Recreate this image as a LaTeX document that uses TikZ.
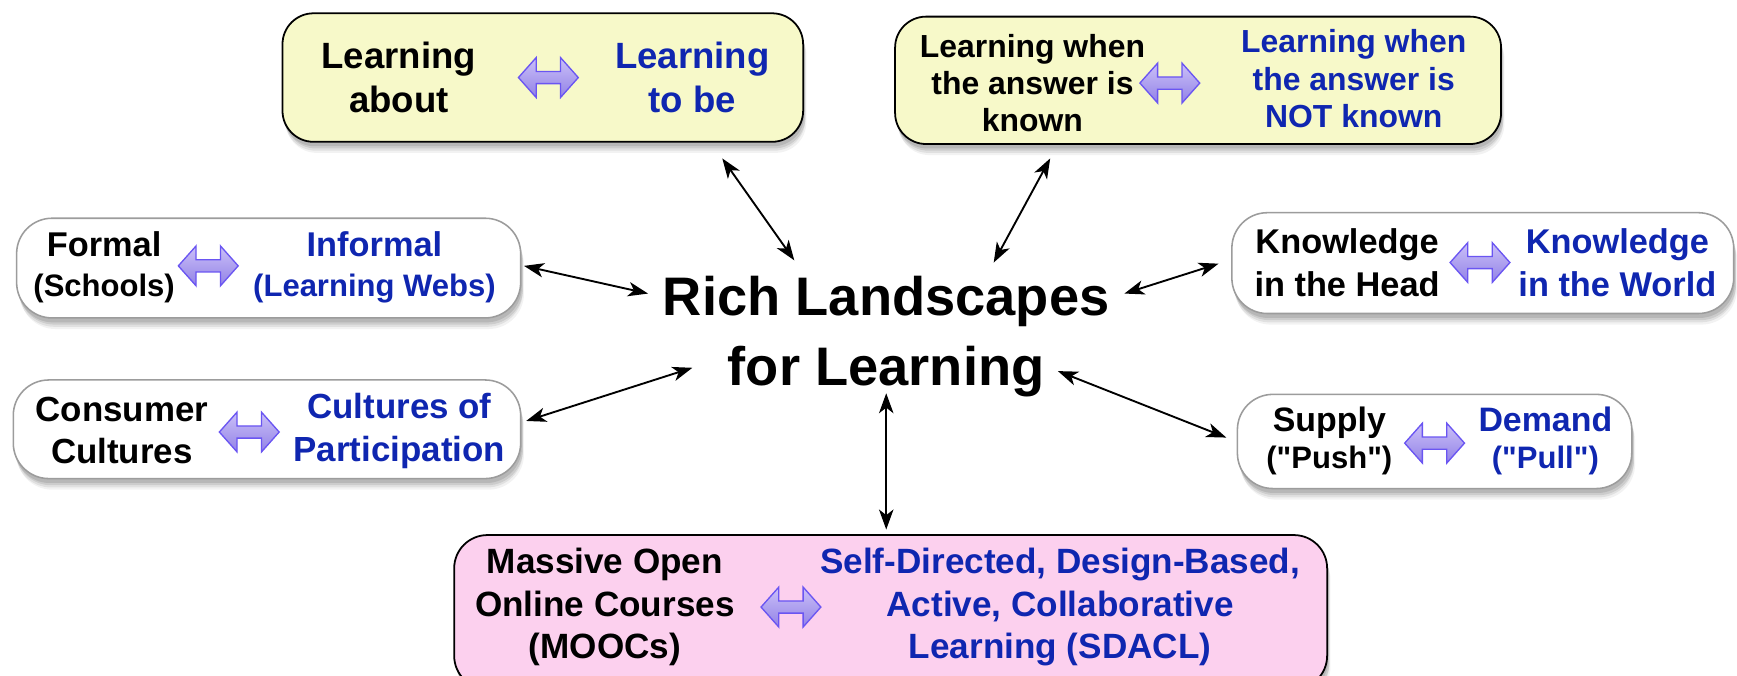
\documentclass[tikz,border=0pt]{standalone}
\usepackage{fontspec}
\setmainfont{Liberation Sans}[Ligatures=TeXOff]
\usetikzlibrary{arrows.meta,shadows}

\definecolor{boxyellow}{HTML}{F7F9C9}
\definecolor{boxpink}{HTML}{FCD0EE}
\definecolor{boxgray}{HTML}{9C9C9C}
\definecolor{textblue}{HTML}{0F26B0}
\definecolor{swaptop}{HTML}{CBC0F8}
\definecolor{swapbot}{HTML}{9282E6}
\definecolor{swapline}{HTML}{6A55F2}

\newcommand{\fsz}[2]{\fontsize{#1}{#2}\selectfont}

\tikzset{
  softshadow/.style={
    drop shadow={shadow xshift=1pt, shadow yshift=-4pt, opacity=.10, fill=black},
    drop shadow={shadow xshift=2pt, shadow yshift=-6pt, opacity=.09, fill=black},
    drop shadow={shadow xshift=2pt, shadow yshift=-8pt, opacity=.07, fill=black},
    drop shadow={shadow xshift=3pt, shadow yshift=-10pt, opacity=.05, fill=black}},
  panel/.style={rectangle, rounded corners=28pt, inner sep=0pt, softshadow},
  darkpanel/.style={panel, draw=black, line width=1.6pt},
  lightpanel/.style={panel, draw=boxgray, fill=white, line width=1.4pt, rounded corners=32pt},
  lefttext/.style={align=center, inner sep=0pt, text=black, font=\bfseries},
  righttext/.style={align=center, inner sep=0pt, text=textblue, font=\bfseries},
  link/.style={line width=1.7pt, {Stealth[length=18pt,width=13pt,inset=5pt]}-{Stealth[length=18pt,width=13pt,inset=5pt]}},
  swaparrow/.pic={
    \shade[top color=swaptop, bottom color=swapbot, draw=swapline, line width=1.2pt, line join=miter]
      (-27,0) -- (-11,-18) -- (-11,-5.5) -- (11,-5.5) -- (11,-18) -- (27,0)
      -- (11,18) -- (11,5.5) -- (-11,5.5) -- (-11,18) -- cycle;}
}

\begin{document}
\begin{tikzpicture}[x=1pt,y=-1pt]
\clip (0,0) rectangle (1568,610);
\fill[white] (0,0) rectangle (1568,610);

% central topic
\node[lefttext, font=\bfseries\fsz{49}{63}] (hub) at (800,304) {Rich Landscapes\\for Learning};

% top left: learning about / learning to be
\node[darkpanel, fill=boxyellow, minimum width=470pt, minimum height=116pt] (boxA) at (490,70) {};
\node[lefttext, font=\bfseries\fsz{33}{40}] (boxAl) at (360,70) {Learning\\about};
\node[righttext, font=\bfseries\fsz{33}{40}] (boxAr) at (625,70) {Learning\\to be};
\pic (swapA) at (495,70) {swaparrow};

% top right: answer known / not known
\node[darkpanel, fill=boxyellow, minimum width=547pt, minimum height=115pt] (boxB) at (1081.5,72.5) {};
\node[lefttext, font=\bfseries\fsz{28.8}{33.5}] (boxBl) at (932,75) {Learning when\\the answer is\\known};
\node[righttext, font=\bfseries\fsz{28.8}{33.5}] (boxBr) at (1222,71) {Learning when\\the answer is\\NOT known};
\pic (swapB) at (1056,75) {swaparrow};

% left: formal / informal
\node[lightpanel, minimum width=455pt, minimum height=90pt] (boxC) at (242.5,242) {};
\node[lefttext, font=\bfseries\fsz{31}{36}] (boxCl) at (94,241) {Formal\\\fsz{28}{36}(Schools)};
\node[righttext, font=\bfseries\fsz{31}{36}] (boxCr) at (338,241) {Informal\\\fsz{28}{36}(Learning Webs)};
\pic (swapC) at (188,240) {swaparrow};

% left: consumer cultures / participation
\node[lightpanel, minimum width=458pt, minimum height=89pt] (boxD) at (241,387.5) {};
\node[lefttext, font=\bfseries\fsz{31.5}{38}] (boxDl) at (110,389) {Consumer\\Cultures};
\node[righttext, font=\bfseries\fsz{31.5}{38}] (boxDr) at (360.5,389) {Cultures of\\Participation};
\pic (swapD) at (225,390) {swaparrow};

% right: knowledge in the head / world
\node[lightpanel, minimum width=453pt, minimum height=91pt] (boxE) at (1338.5,237.5) {};
\node[lefttext, font=\bfseries\fsz{31}{39}] (boxEl) at (1216,237) {Knowledge\\in the Head};
\node[righttext, font=\bfseries\fsz{31}{39}] (boxEr) at (1460,237) {Knowledge\\in the World};
\pic (swapE) at (1336,237) {swaparrow};

% right: supply / demand
\node[lightpanel, minimum width=356pt, minimum height=85pt] (boxF) at (1295,398.5) {};
\node[lefttext, font=\bfseries\fsz{30.6}{34}] (boxFl) at (1200,398) {Supply\\\fsz{28}{34}("Push")};
\node[righttext, font=\bfseries\fsz{30.6}{34}] (boxFr) at (1395,398) {Demand\\\fsz{28}{34}("Pull")};
\pic (swapF) at (1295,400) {swaparrow};

% bottom: MOOCs / SDACL
\node[darkpanel, fill=boxpink, rounded corners=30pt, minimum width=788pt, minimum height=139pt] (boxG) at (804,552.5) {};
\node[lefttext, font=\bfseries\fsz{31.7}{38.5}] (boxGl) at (546,548) {Massive Open\\Online Courses\\(MOOCs)};
\node[righttext, font=\bfseries\fsz{31.7}{38.5}] (boxGr) at (957,548) {Self-Directed, Design-Based,\\Active, Collaborative\\Learning (SDACL)};
\pic (swapG) at (714,548) {swaparrow};

% connector ends
\coordinate (endA) at (652,143);  \coordinate (hubA) at (717,235);
\coordinate (endB) at (948,143);  \coordinate (hubB) at (897,237);
\coordinate (endC) at (473,240);  \coordinate (hubC) at (585,265);
\coordinate (endD) at (475,380);  \coordinate (hubD) at (625,332);
\coordinate (endE) at (1100,238); \coordinate (hubE) at (1015,265);
\coordinate (endF) at (1107,395); \coordinate (hubF) at (955,335);
\coordinate (endG) at (800,478);  \coordinate (hubG) at (800,355);

\foreach \k in {A,B,C,D,E,F,G} \draw[link] (end\k) -- (hub\k);
\end{tikzpicture}
\end{document}
